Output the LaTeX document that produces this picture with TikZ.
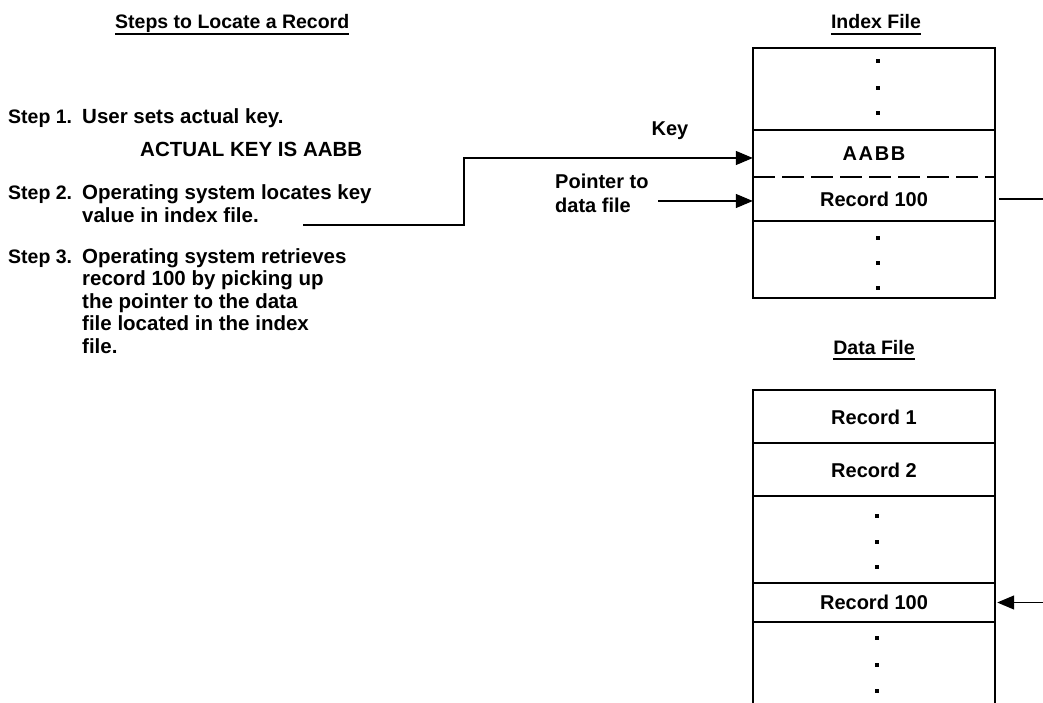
\documentclass[tikz,border=0pt]{standalone}
\usepackage{fontspec}
\setmainfont{Liberation Sans}
\usetikzlibrary{arrows.meta}
\begin{document}
\begin{tikzpicture}[x=1pt,y=-1pt,
  txt/.style={font=\bfseries\fontsize{20.5}{22.5}\selectfont, inner sep=0pt, align=left},
  lbl/.style={font=\bfseries\fontsize{19.5}{22.5}\selectfont, inner sep=0pt},
  ttl/.style={font=\bfseries\fontsize{19.5}{22}\selectfont, inner sep=0pt},
  cell/.style={font=\bfseries\fontsize{20}{22}\selectfont, inner sep=0pt, minimum width=242pt},
  side/.style={font=\bfseries\fontsize{20}{24}\selectfont, inner sep=0pt, align=left},
  uline/.style={line width=1.8pt},
  frame/.style={line width=2.6pt},
  rowline/.style={line width=1.2pt},
  conn/.style={line width=1.3pt},
  arr/.style={-{Triangle[length=17pt,width=14pt]}},
  dotn/.style={rectangle, fill, inner sep=0pt, minimum size=3.2pt}]
\useasboundingbox (0,0) rectangle (1043,703);
\fill[white] (0,0) rectangle (1043,703);

% ---------- left column ----------
\node[ttl, anchor=base west] (t1) at (115,29) {Steps to Locate a Record};
\draw[uline] ([yshift=-5pt]t1.base west) -- ([yshift=-5pt]t1.base east);

\node[lbl, anchor=base west] (s1l) at (8,124) {Step 1.};
\node[txt, anchor=base west] (s1t) at (82,124) {User sets actual key.};
\node[txt, anchor=base west] (ak) at (140,157) {ACTUAL KEY IS AABB};
\node[lbl, anchor=base west] (s2l) at (8,200) {Step 2.};
\node[txt, anchor=base west] (s2t) at (82,222.5) {Operating system locates key\\value in index file.};
\node[lbl, anchor=base west] (s3l) at (8,263) {Step 3.};
\node[txt, anchor=base west] (s3t) at (82,353) {Operating system retrieves\\record 100 by picking up\\the pointer to the data\\file located in the index\\file.};

% ---------- index file ----------
\node[ttl, anchor=base] (t2) at (876,29) {Index File};
\draw[uline] ([yshift=-5pt]t2.base west) -- ([yshift=-5pt]t2.base east);

\node[cell, minimum height=47pt] (aabb) at (874,154) {\addfontfeature{LetterSpace=8}AABB};
\node[cell, minimum height=44pt] (irec) at (874,199) {Record 100};
\foreach \yy/\nm in {61/ia,88/ib,113/ic,238/id,263/ie,288/iff}
  \node[dotn] (\nm) at (878,\yy) {};
\draw[rowline] (753,130) -- (995,130);
\draw[rowline, dash pattern=on 22pt off 7pt] (753,177) -- (995,177);
\draw[rowline] (753,221) -- (995,221);
\draw[frame] (753,48) rectangle (995,298);

% ---------- data file ----------
\node[ttl, anchor=base] (t3) at (874,354) {Data File};
\draw[uline] ([yshift=-5pt]t3.base west) -- ([yshift=-5pt]t3.base east);

\node[cell, minimum height=53pt] (d1) at (874,417) {Record 1};
\node[cell, minimum height=53pt] (d2) at (874,470) {Record 2};
\node[cell, minimum height=39pt] (drec) at (874,602.5) {Record 100};
\foreach \yy/\nm in {516/da,542/db,567/dc,638/dd,665/de,691/df}
  \node[dotn] (\nm) at (877,\yy) {};
\draw[rowline] (753,443) -- (995,443);
\draw[rowline] (753,496) -- (995,496);
\draw[rowline] (753,583) -- (995,583);
\draw[rowline] (753,622) -- (995,622);
\draw[frame] (753,712) -- (753,390) -- (995,390) -- (995,712);

% ---------- connectors ----------
\node[side, anchor=base] (key) at (670,136) {Key};
\node[side, anchor=base west] (ptr) at (555,213) {Pointer to\\data file};

\coordinate (k0) at (303,225);
\coordinate (k1) at (464,225);
\coordinate (k2) at (464,158);
\draw[conn, arr] (k0) -- (k1) -- (k2) -- ([yshift=-4pt]aabb.west);

\coordinate (p0) at (658,201);
\draw[conn, arr] (p0) -- ([yshift=-2pt]irec.west);

\coordinate (o1) at (1050,199);
\draw[conn] ([xshift=4pt]irec.east) -- (o1);

\coordinate (o2) at (1050,602.5);
\draw[conn, arr] (o2) -- ([xshift=2pt]drec.east);
\end{tikzpicture}
\end{document}
